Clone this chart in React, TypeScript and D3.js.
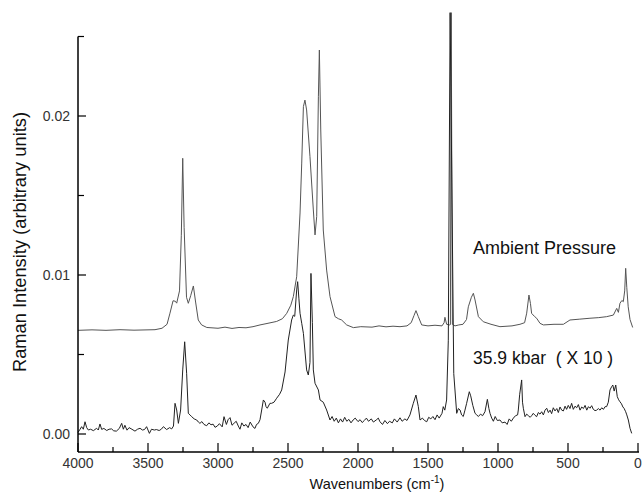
import React from "react";
import * as d3 from "d3";

// ---- Data ----
const ambientWavenumbers = [
  4000, 3900, 3800, 3700, 3600, 3500, 3450, 3400, 3364, 3343, 3321, 3305, 3295, 3275, 3262, 3252, 3242, 3225, 3212, 3195,
  3176, 3160, 3141, 3117, 3080, 3000, 2950, 2900, 2850, 2800, 2750, 2700, 2650, 2581, 2540, 2509, 2480, 2462, 2438, 2414,
  2402, 2390, 2379, 2367, 2343, 2319, 2307, 2295, 2283, 2276, 2266, 2248, 2224, 2200, 2164, 2140, 2117, 2081, 2033, 1980,
  1900, 1850, 1800, 1750, 1700, 1650, 1620, 1600, 1586, 1570, 1545, 1500, 1450, 1400, 1385, 1379, 1367, 1345, 1340, 1334,
  1326, 1318, 1307, 1280, 1250, 1225, 1212, 1190, 1176, 1164, 1140, 1105, 1050, 986, 900, 843, 810, 795, 779, 768,
  760, 740, 724, 700, 676, 600, 533, 486, 420, 343, 280, 224, 176, 152, 140, 129, 115, 105, 95, 88,
  80, 70, 57, 38,
];
const ambientIntensity = [
  0.00652, 0.00655, 0.00652, 0.00656, 0.00653, 0.00655, 0.00656, 0.00665, 0.0069, 0.0076, 0.00838, 0.00835, 0.00823, 0.009, 0.0125, 0.01734, 0.013, 0.0086, 0.00822, 0.0087,
  0.00931, 0.0083, 0.00717, 0.00686, 0.0067, 0.00665, 0.00672, 0.00664, 0.0067, 0.00668, 0.00675, 0.00686, 0.00695, 0.00708, 0.00725, 0.00759, 0.0081, 0.00864, 0.00989, 0.0139,
  0.01704, 0.02059, 0.021, 0.02038, 0.01744, 0.01409, 0.01252, 0.01367, 0.02121, 0.02415, 0.01912, 0.01283, 0.01031, 0.00864, 0.00738, 0.00725, 0.00717, 0.00686, 0.00669, 0.00675,
  0.00672, 0.0068, 0.00674, 0.00678, 0.00675, 0.0068, 0.007, 0.00745, 0.00776, 0.0074, 0.00686, 0.0068, 0.00684, 0.0068, 0.007, 0.00734, 0.0069, 0.00686, 0.00688, 0.0265,
  0.0069, 0.00685, 0.0068, 0.00686, 0.0069, 0.0072, 0.008, 0.0086, 0.00885, 0.00843, 0.00738, 0.00706, 0.0069, 0.00675, 0.0068, 0.0069, 0.007, 0.0076, 0.00874, 0.0082,
  0.00759, 0.0074, 0.00728, 0.00696, 0.00686, 0.0069, 0.0069, 0.00717, 0.00722, 0.00728, 0.00732, 0.00738, 0.00748, 0.0079, 0.00765, 0.00822, 0.0084, 0.00832, 0.009, 0.01042,
  0.0092, 0.008, 0.0072, 0.0067,
];

const pressureWavenumbers = [
  4000, 3985, 3974, 3962, 3950, 3938, 3926, 3910, 3890, 3867, 3855, 3843, 3831, 3815, 3795, 3778, 3760, 3745, 3726, 3705,
  3688, 3676, 3665, 3650, 3635, 3615, 3593, 3575, 3557, 3540, 3525, 3510, 3490, 3475, 3455, 3440, 3420, 3405, 3390, 3367,
  3345, 3331, 3318, 3307, 3295, 3283, 3267, 3252, 3238, 3224, 3212, 3200, 3188, 3170, 3152, 3140, 3129, 3115, 3100, 3081,
  3065, 3050, 3035, 3021, 3005, 2990, 2970, 2957, 2940, 2928, 2914, 2900, 2885, 2870, 2855, 2843, 2830, 2815, 2800, 2785,
  2770, 2750, 2736, 2725, 2712, 2700, 2688, 2676, 2664, 2657, 2648, 2629, 2617, 2600, 2581, 2560, 2545, 2521, 2498, 2474,
  2462, 2452, 2438, 2431, 2422, 2414, 2402, 2390, 2367, 2355, 2343, 2336, 2326, 2319, 2307, 2283, 2271, 2248, 2224, 2200,
  2185, 2170, 2155, 2140, 2125, 2110, 2095, 2080, 2065, 2050, 2035, 2020, 2000, 1985, 1970, 1955, 1940, 1925, 1905, 1890,
  1870, 1855, 1843, 1825, 1808, 1790, 1775, 1755, 1740, 1720, 1700, 1685, 1665, 1650, 1629, 1605, 1586, 1569, 1557, 1540,
  1525, 1509, 1495, 1480, 1465, 1450, 1435, 1420, 1400, 1391, 1380, 1367, 1355, 1342, 1316, 1295, 1283, 1271, 1260, 1248,
  1236, 1224, 1205, 1195, 1180, 1164, 1152, 1140, 1125, 1110, 1093, 1076, 1065, 1057, 1045, 1033, 1020, 1005, 986, 970,
  950, 935, 920, 905, 890, 875, 860, 855, 845, 831, 825, 819, 807, 795, 783, 770, 760, 748, 736, 724,
  712, 700, 688, 676, 664, 652, 640, 628, 617, 605, 593, 580, 569, 557, 545, 533, 521, 510, 498, 486,
  474, 462, 450, 438, 426, 414, 402, 390, 378, 366, 354, 343, 331, 319, 307, 295, 283, 271, 259, 247,
  235, 224, 212, 200, 188, 180, 170, 159, 148, 138, 129, 118, 108, 100, 88, 80, 69, 57, 45,
];
const pressureIntensity = [
  0.0001, 0.0003, 0.00046, 0.0003, 0.00077, 0.0004, 0.00025, 0.0003, 0.00021, 0.00036, 0.00025, 0.00063, 0.00029, 0.00035, 0.00022, 0.0003, 0.00032, 0.0002, 0.00018, 0.00035,
  0.00067, 0.0003, 0.00055, 0.00024, 0.0004, 0.0003, 0.00018, 0.0003, 0.00036, 0.00025, 0.00028, 0.00046, 0.00004, 0.0003, 0.00025, 0.00028, 0.00022, 0.0003, 0.00046, 0.00028,
  0.0004, 0.00032, 0.0005, 0.00193, 0.00151, 0.00067, 0.00151, 0.00403, 0.0058, 0.00382, 0.0013, 0.0012, 0.00109, 0.00095, 0.00088, 0.00075, 0.00067, 0.00078, 0.0006, 0.00052,
  0.0007, 0.00058, 0.00062, 0.00042, 0.0005, 0.00065, 0.00045, 0.00109, 0.0006, 0.0009, 0.00103, 0.00055, 0.00068, 0.0008, 0.0005, 0.0003, 0.0007, 0.0005, 0.0006, 0.0004,
  0.00075, 0.00045, 0.00035, 0.0006, 0.00067, 0.0009, 0.00151, 0.00214, 0.002, 0.00172, 0.00162, 0.00193, 0.00193, 0.002, 0.00225, 0.0025, 0.00277, 0.0039, 0.00591, 0.00717,
  0.00748, 0.0074, 0.00906, 0.00958, 0.0085, 0.00759, 0.00696, 0.00633, 0.00403, 0.00371, 0.0045, 0.0101, 0.007, 0.00403, 0.00319, 0.00277, 0.00214, 0.002, 0.00151, 0.00088,
  0.0011, 0.0008, 0.001, 0.0007, 0.00095, 0.00075, 0.00105, 0.0008, 0.00092, 0.0007, 0.00088, 0.001, 0.00078, 0.0009, 0.00072, 0.00085, 0.001, 0.0008, 0.00095, 0.00075,
  0.00088, 0.001, 0.00077, 0.0006, 0.00085, 0.00065, 0.0008, 0.0007, 0.00095, 0.00075, 0.00102, 0.0008, 0.00095, 0.00085, 0.0012, 0.00193, 0.00245, 0.00172, 0.00088, 0.001,
  0.00085, 0.00077, 0.00105, 0.00095, 0.0011, 0.0009, 0.0012, 0.001, 0.0013, 0.00172, 0.0015, 0.00214, 0.0059, 0.0265, 0.0038, 0.0013, 0.0016, 0.00151, 0.0012, 0.0011,
  0.0015, 0.00193, 0.00266, 0.0024, 0.0018, 0.0013, 0.0012, 0.0011, 0.00125, 0.00115, 0.0014, 0.00218, 0.0016, 0.0013, 0.001, 0.0008, 0.0011, 0.00085, 0.00088, 0.0007,
  0.00075, 0.0006, 0.00095, 0.0008, 0.001, 0.00115, 0.0012, 0.00151, 0.0025, 0.0034, 0.002, 0.00162, 0.00109, 0.00125, 0.00115, 0.00105, 0.00115, 0.0013, 0.00118, 0.00109,
  0.00135, 0.00125, 0.0014, 0.0012, 0.0015, 0.00162, 0.00135, 0.0015, 0.00128, 0.00165, 0.00145, 0.0016, 0.00135, 0.0017, 0.0015, 0.00145, 0.00175, 0.00155, 0.0018, 0.0016,
  0.00193, 0.00155, 0.00175, 0.00165, 0.00185, 0.0015, 0.0017, 0.0016, 0.0018, 0.0015, 0.00172, 0.00162, 0.00178, 0.00155, 0.00147, 0.0015, 0.0016, 0.0015, 0.00165, 0.00155,
  0.00172, 0.00172, 0.002, 0.00277, 0.00298, 0.00308, 0.0027, 0.00308, 0.00235, 0.00215, 0.00203, 0.0019, 0.0017, 0.00162, 0.0014, 0.0012, 0.00088, 0.00036, 0.00004,
];

const xMajorTicks = [4000, 3500, 3000, 2500, 2000, 1500, 1000, 500, 0];
const xMinorTicks = [3750, 3250, 2750, 2250, 1750, 1250, 750, 250];
const yMajorTicks = [0, 0.01, 0.02];
const yMajorLabels = ["0.00", "0.01", "0.02"];
const yMinorTicks = [0.005, 0.015, 0.025];

const seriesLabels = ["Ambient Pressure", "35.9 kbar\u00a0\u00a0( X 10 )"];

const W = 642;
const H = 494;
const left = 78;
const right = 638;
const top = 36.5;
const bottom = 452;

export default function App() {
  const x = d3.scaleLinear().domain([4000, 0]).range([left, right]);
  const y = d3.scaleLinear().domain([0, 0.025]).range([434, top]);

  const line = d3
    .line<[number, number]>()
    .x((d) => x(d[0]))
    .y((d) => y(d[1]));

  const ambient: [number, number][] = ambientWavenumbers.map((w, i) => [w, ambientIntensity[i]]);
  const pressure: [number, number][] = pressureWavenumbers.map((w, i) => [w, pressureIntensity[i]]);

  const font = "'Liberation Sans', Arial, sans-serif";

  return (
    <svg
      width={W}
      height={H}
      viewBox={`0 0 ${W} ${H}`}
      style={{ position: "absolute", left: 0, top: 0, background: "#fff" }}
      fontFamily={font}
    >
      <rect x={0} y={0} width={W} height={H} fill="#fff" />
      {/* curves */}
      <path d={line(ambient) || ""} fill="none" stroke="#555" strokeWidth={1} />
      <path d={line(pressure) || ""} fill="none" stroke="#222" strokeWidth={1} />

      {/* axes */}
      <line x1={left} y1={top} x2={left} y2={bottom} stroke="#000" strokeWidth={1.5} />
      <line x1={left} y1={bottom} x2={right + 1} y2={bottom} stroke="#000" strokeWidth={1.5} />

      {xMajorTicks.map((t) => (
        <g key={"xm" + t}>
          <line x1={x(t)} x2={x(t)} y1={bottom} y2={bottom - 9} stroke="#000" strokeWidth={1.2} />
          <text x={x(t)} y={468} textAnchor="middle" fontSize={14} fill="#333">
            {t}
          </text>
        </g>
      ))}
      {xMinorTicks.map((t) => (
        <line key={"xn" + t} x1={x(t)} x2={x(t)} y1={bottom} y2={bottom - 5} stroke="#000" strokeWidth={1.2} />
      ))}
      {yMajorTicks.map((t, i) => (
        <g key={"ym" + t}>
          <line x1={left} x2={left + 8} y1={y(t)} y2={y(t)} stroke="#000" strokeWidth={1.2} />
          <text x={70} y={y(t) + 5} textAnchor="end" fontSize={14} fill="#333">
            {yMajorLabels[i]}
          </text>
        </g>
      ))}
      {yMinorTicks.map((t) => (
        <line key={"yn" + t} x1={left} x2={left + 6} y1={y(t)} y2={y(t)} stroke="#000" strokeWidth={1.2} />
      ))}

      {/* axis titles */}
      <text x={377} y={489} textAnchor="middle" fontSize={14.5} fill="#111">
        Wavenumbers (cm
        <tspan dy={-6} fontSize={10}>-1</tspan>
        <tspan dy={6}>)</tspan>
      </text>
      <text
        transform={`translate(26, 242) rotate(-90)`}
        textAnchor="middle"
        fontSize={18.3}
        fill="#111"
      >
        Raman Intensity (arbitrary units)
      </text>

      {/* annotations */}
      <text x={473} y={254} fontSize={18} fill="#111">
        {seriesLabels[0]}
      </text>
      <text x={473} y={364} fontSize={17.5} fill="#111">
        {seriesLabels[1]}
      </text>
    </svg>
  );
}
